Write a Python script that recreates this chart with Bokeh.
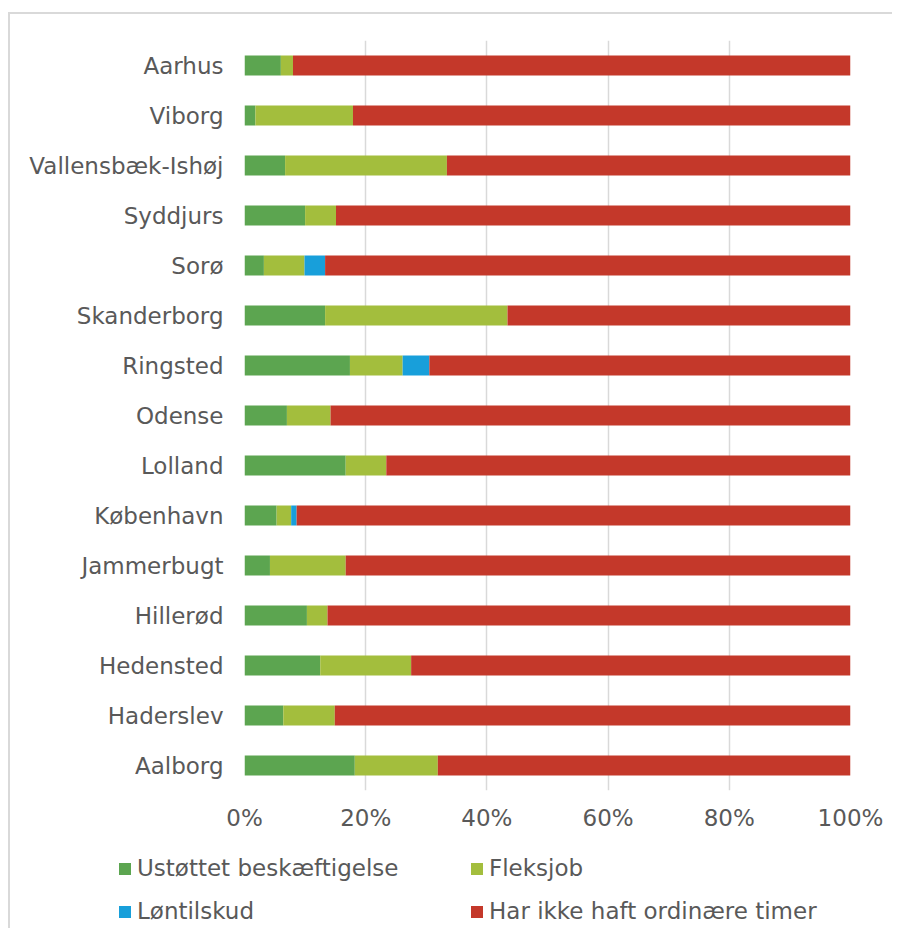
from bokeh.plotting import figure
from bokeh.layouts import column
from bokeh.models import FactorRange, Range1d, FixedTicker, Legend, LegendItem, ColumnDataSource
from bokeh.embed import file_html
from bokeh.resources import INLINE

categories = ["Aarhus", "Viborg", "Vallensbæk-Ishøj", "Syddjurs", "Sorø", "Skanderborg",
              "Ringsted", "Odense", "Lolland", "København", "Jammerbugt", "Hillerød",
              "Hedensted", "Haderslev", "Aalborg"]
ustottet = [6.0, 1.8, 6.7, 10.0, 3.2, 13.3, 17.4, 7.0, 16.7, 5.3, 4.2, 10.3, 12.5, 6.4, 18.2]
fleksjob = [2.0, 16.1, 26.7, 5.1, 6.7, 30.1, 8.7, 7.2, 6.7, 2.4, 12.5, 3.4, 15.0, 8.5, 13.7]
lontilskud = [0, 0, 0, 0, 3.4, 0, 4.4, 0, 0, 0.9, 0, 0, 0, 0, 0]
ikke_timer = [92.0, 82.1, 66.6, 84.9, 86.7, 56.6, 69.5, 85.8, 76.6, 91.4, 83.3, 86.3, 72.5, 85.1, 68.1]

series_names = ["Ustøttet beskæftigelse", "Fleksjob", "Løntilskud", "Har ikke haft ordinære timer"]
series_colors = ["#5ca550", "#a3be3d", "#189fda", "#c4382a"]
tick_values = [0, 20, 40, 60, 80, 100]
tick_labels = ["0%", "20%", "40%", "60%", "80%", "100%"]

keys = ["s0", "s1", "s2", "s3"]
source = ColumnDataSource(dict(cat=categories, s0=ustottet, s1=fleksjob, s2=lontilskud, s3=ikke_timer))

FONT = "DejaVu Sans"
GRAY = "#595959"

p = figure(width=882, height=826, output_backend="svg", toolbar_location=None,
           y_range=FactorRange(factors=categories[::-1]), x_range=Range1d(0, 100),
           min_border_left=234, min_border_right=42, min_border_top=26, min_border_bottom=50)
p.frame_align = False
p.outline_line_color = None
p.background_fill_color = "white"
p.border_fill_color = "white"

p.hbar_stack(keys, y="cat", height=0.4, color=series_colors, source=source, line_color=None)

p.ygrid.grid_line_color = None
p.xgrid.grid_line_color = "#d9d9d9"
p.xgrid.grid_line_width = 1.5
p.xgrid.ticker = FixedTicker(ticks=tick_values)

p.xaxis.ticker = FixedTicker(ticks=tick_values)
p.xaxis.major_label_overrides = {v: l for v, l in zip(tick_values, tick_labels)}
for ax in (p.xaxis, p.yaxis):
    ax.axis_line_color = None
    ax.major_tick_line_color = None
    ax.minor_tick_line_color = None
    ax.major_tick_out = 0
    ax.major_tick_in = 0
    ax.minor_tick_out = 0
    ax.major_label_text_font = FONT
    ax.major_label_text_font_size = "23px"
    ax.major_label_text_color = GRAY
p.xaxis.major_label_standoff = 14
p.yaxis.major_label_standoff = 21

# legend panel (its own figure so the legend is not clipped by the main frame)
lg = figure(width=882, height=88, output_backend="svg", toolbar_location=None,
            x_range=Range1d(0, 100), y_range=FactorRange(factors=categories[::-1]),
            x_axis_location=None, y_axis_location=None,
            min_border_left=0, min_border_right=0, min_border_top=0, min_border_bottom=0)
lg.frame_align = False
lg.outline_line_color = None
lg.xgrid.grid_line_color = None
lg.ygrid.grid_line_color = None
lg.border_fill_color = "white"
lg_renderers = lg.hbar_stack(keys, y="cat", height=0.4, color=series_colors, source=source, line_color=None)
for r in lg_renderers:
    r.visible = False
items = [LegendItem(label=n, renderers=[r]) for n, r in zip(series_names, lg_renderers)]
legend = Legend(items=items, location=(107, 3.5), orientation="horizontal", ncols=2,
                glyph_width=15, glyph_height=15, label_standoff=5, label_width=316,
                label_height=27, spacing=16, padding=0, margin=0,
                border_line_color=None, background_fill_alpha=0,
                inactive_fill_alpha=0,
                label_text_font=FONT, label_text_font_size="23px", label_text_color=GRAY)
lg.add_layout(legend, "center")

layout = column(p, lg, spacing=0)
layout.styles = {"border-left": "2px solid #d9d9d9", "border-top": "2px solid #d9d9d9",
                 "margin-top": "12px", "margin-left": "8px"}

open("out.html", "w").write(file_html(layout, INLINE))
